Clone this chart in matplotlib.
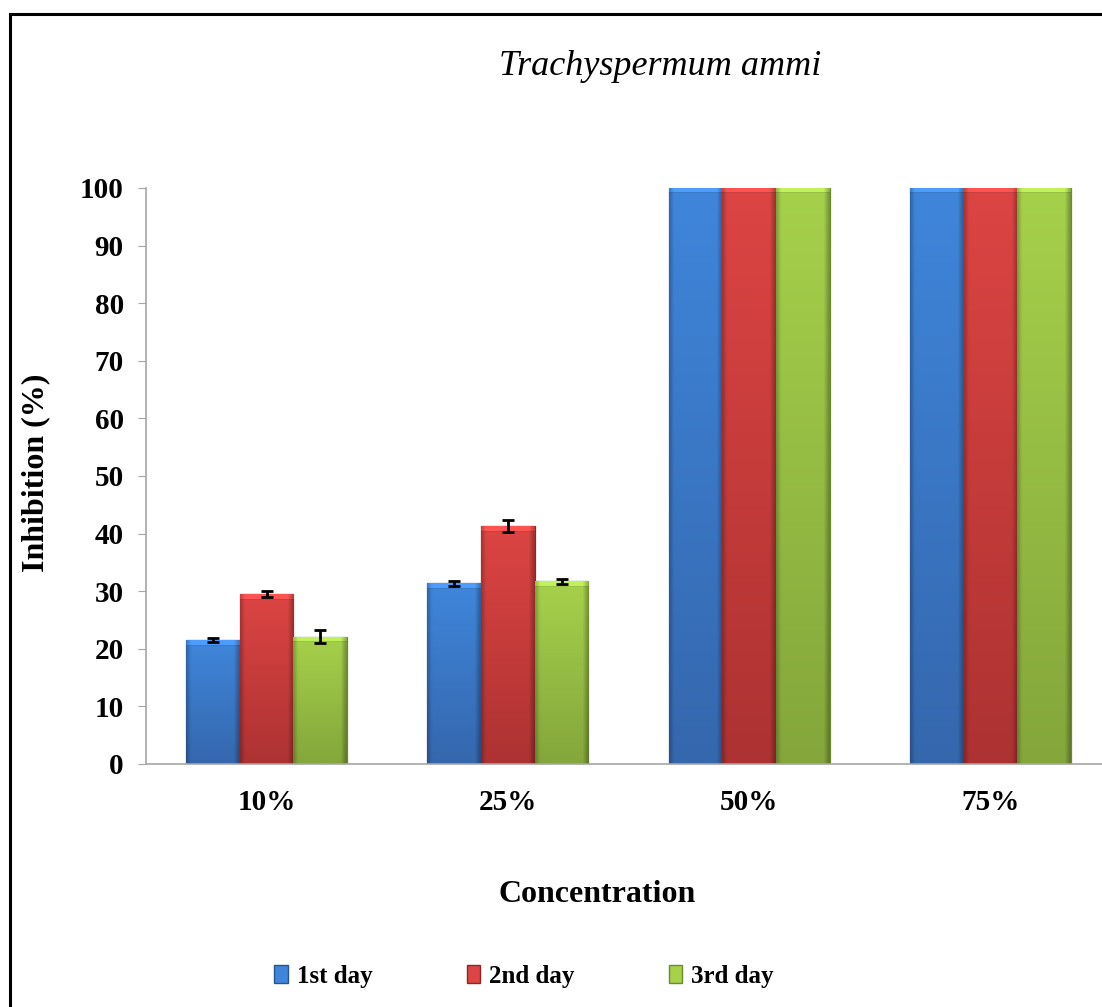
import numpy as np
import matplotlib
matplotlib.use('Agg')
import matplotlib.pyplot as plt
from matplotlib.lines import Line2D
from matplotlib.patches import Patch

categories = ['10%', '25%', '50%', '75%']
series = ['1st day', '2nd day', '3rd day']
day1 = [21.5, 31.4, 100, 100]
day2 = [29.5, 41.3, 100, 100]
day3 = [22.1, 31.7, 100, 100]
err1 = [0.4, 0.45, 0, 0]
err2 = [0.55, 1.0, 0, 0]
err3 = [1.15, 0.5, 0, 0]

# (top, bottom, edge) colours per series
shades = [
    ('#3f86db', '#3567ad', '#2a5490'),
    ('#dc4543', '#ad3232', '#8a2828'),
    ('#a6d14b', '#84a63b', '#6a8a2c'),
]

plt.rcParams['font.family'] = ['Liberation Serif', 'DejaVu Serif']

W, H = 1102, 1007
fig = plt.figure(figsize=(W / 100, H / 100), dpi=100)
ax = fig.add_axes([146 / W, 243 / H, 965 / W, 576 / H])

def hex2rgb(h):
    return np.array([int(h[i:i + 2], 16) for i in (1, 3, 5)]) / 255.0

def gradient(top, bottom, rows, m=30):
    t, b = hex2rgb(top), hex2rgb(bottom)
    v = np.linspace(0, 1, rows)[:, None, None]
    col = t * (1 - v) + b * v
    xs = np.linspace(0, 1, m)
    # shading across the bar: dark rim both sides, darker on the right
    prof = 1.0 - 0.22 * np.clip(1 - xs / 0.08, 0, 1) - 0.28 * np.clip((xs - 0.9) / 0.1, 0, 1)
    img = np.clip(col * prof[None, :, None], 0, 1)
    # bevel on top of the bar
    img[:5] = np.clip(img[:5] * 1.12 + 0.03, 0, 1)
    img[5] = img[5] * 0.92
    return img

x = np.arange(len(categories))
width = 0.2226
for i, (vals, errs) in enumerate(zip([day1, day2, day3], [err1, err2, err3])):
    top, bottom, edge = shades[i]
    pos = x + (i - 1) * width
    bars = ax.bar(pos, vals, width, color=bottom, edgecolor=edge, linewidth=0.9, zorder=2)
    for b in bars:
        rows = max(int(b.get_height() * 5.76), 12)
        im = ax.imshow(gradient(top, bottom, rows),
                       extent=(b.get_x(), b.get_x() + b.get_width(), 0, b.get_height()),
                       aspect='auto', origin='upper', zorder=2.5, interpolation='bilinear')
        im.set_clip_path(b)
    for p, v, e in zip(pos, vals, errs):
        if e > 0:
            ax.errorbar(p, v, yerr=e, fmt='none', ecolor='black', elinewidth=2,
                        capsize=4, capthick=2, zorder=4)

ax.set_xlim(-0.5, len(categories) - 0.5)
ax.set_ylim(0, 100)
ax.set_yticks(np.arange(0, 101, 10))
ax.set_xticks(x)
ax.set_xticklabels(categories)
for s in ['top', 'right']:
    ax.spines[s].set_visible(False)
for s in ['left', 'bottom']:
    ax.spines[s].set_color('#a6a6a6')
    ax.spines[s].set_linewidth(1.2)
ax.tick_params(axis='y', length=6, color='#a6a6a6', pad=10, labelsize=21)
ax.tick_params(axis='x', length=0, pad=18, labelsize=21)
for lab in ax.get_xticklabels() + ax.get_yticklabels():
    lab.set_fontweight('bold')

ax.set_ylabel('Inhibition (%)', fontsize=23, fontweight='bold')
ax.yaxis.set_label_coords(-0.099, 0.505)
fig.text(597 / W, 1 - 902 / H, 'Concentration', fontsize=23, fontweight='bold',
         ha='center', va='baseline')
fig.text(660 / W, 1 - 75 / H, 'Trachyspermum ammi', fontsize=26, style='italic',
         ha='center', va='baseline')

handles = [Patch(facecolor=shades[i][0], edgecolor=shades[i][2]) for i in range(3)]
fig.legend(handles, series, loc='center', bbox_to_anchor=(524 / W, 1 - 976 / H),
           ncol=3, frameon=False, prop={'size': 18, 'weight': 'bold'},
           handlelength=0.55, handleheight=0.75, handletextpad=0.36, columnspacing=3.76)

# outer frame (left and top only, cropped on the other sides)
fig.add_artist(Line2D([10 / W, 10 / W], [0, 1 - 14 / H], color='black', lw=2.2))
fig.add_artist(Line2D([10 / W, 1], [1 - 14 / H, 1 - 14 / H], color='black', lw=2.2))

fig.savefig('out.png', dpi=100)
